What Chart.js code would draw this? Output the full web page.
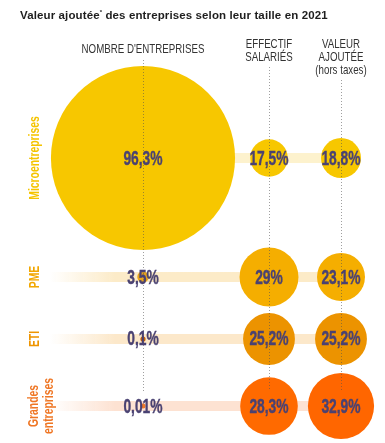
<!DOCTYPE html>
<html lang="fr">
<head>
<meta charset="utf-8">
<script src="https://cdn.jsdelivr.net/npm/chart.js@4.4.0/dist/chart.umd.min.js"></script>
<style>
  html, body { margin: 0; padding: 0; background: #fff; }
  #wrap { position: relative; width: 385px; height: 443px; overflow: hidden; font-family: "Liberation Sans", Arial, sans-serif; }
  #chart { position: absolute; left: 0; top: 0; }
  .title { position: absolute; left: 20px; top: 9px; font-size: 11.5px; letter-spacing: 0.12px; line-height: 13px; font-weight: bold; color: #1e1e1e; white-space: nowrap; }
  .title sup { font-size: 6px; vertical-align: 5px; line-height: 0; }
  .head { position: absolute; font-size: 13.5px; line-height: 13px; color: #333; text-align: center; white-space: nowrap; transform: translateX(-50%) scaleX(0.72); }
  .row { position: absolute; font-size: 14px; line-height: 15px; font-weight: bold; text-align: center; white-space: nowrap; transform: translate(-50%, -50%) rotate(-90deg) scaleX(0.74); }
</style>
</head>
<body>
<div id="wrap">
  <canvas id="chart" width="385" height="443"></canvas>
  <div class="title">Valeur ajoutée<sup>*</sup> des entreprises selon leur taille en 2021</div>
</div>
<script>
// Data (percent shares, 2021)
const rowNames = [['Microentreprises'], ['PME'], ['ETI'], ['Grandes', 'entreprises']];
const columnNames = [["NOMBRE D'ENTREPRISES"], ['EFFECTIF', 'SALARIÉS'], ['VALEUR', 'AJOUTÉE', '(hors taxes)']];
const nombreEntreprises = [96.3, 3.5, 0.1, 0.01];
const effectifSalaries = [17.5, 29, 25.2, 28.3];
const valeurAjoutee = [18.8, 23.1, 25.2, 32.9];
const series = [nombreEntreprises, effectifSalaries, valeurAjoutee];

// Layout (percent of the drawing area) and styles
const COL_X = [37.14, 69.87, 88.57];
const ROW_Y = [35.67, 62.53, 76.52, 91.65];
const HEAD_TOP = [42, 37, 37];
const LINE_TOP = [60, 67, 80];
const rowColors = ['#F5C400', '#F2A700', '#EE9400', '#EF7624'];
const circleColors = [
    ['#F7C700', '#F7C700', '#F7C700'],
    ['#E9A41C', '#F5AE00', '#F5AE00'],
    ['#C25E08', '#EC9300', '#EC9300'],
    ['#F07A2A', '#FF6A00', '#FF6600']
];
const bandColors = ['253,242,205', '252,235,200', '252,232,202', '253,226,210'];
const LABEL_COLOR = '#4A4272';

const radiusFor = v => 0.93 * v + 2.5;
const fmt = v => String(v).replace('.', ',') + '%';

// Faded horizontal band behind each row
const bandsPlugin = {
    id: 'bands',
    beforeDatasetsDraw(chart) {
        const { ctx, scales: { x, y } } = chart;
        const x0 = 50, x1 = x.getPixelForValue(COL_X[2]);
        ROW_Y.forEach((ry, r) => {
            const py = y.getPixelForValue(ry);
            const g = ctx.createLinearGradient(x0, 0, x0 + 65, 0);
            g.addColorStop(0, `rgba(${bandColors[r]},0)`);
            g.addColorStop(1, `rgba(${bandColors[r]},1)`);
            ctx.fillStyle = g;
            ctx.fillRect(x0, py - 5, x1 - x0, 10);
        });
    }
};

// Dotted column guides + value labels
const overlayPlugin = {
    id: 'overlay',
    afterDatasetsDraw(chart) {
        const { ctx, scales: { x, y } } = chart;
        const bottom = y.getPixelForValue(ROW_Y[3]) - 15;
        ctx.save();
        ctx.strokeStyle = 'rgba(80,80,80,0.55)';
        ctx.lineWidth = 1;
        ctx.setLineDash([1, 2]);
        COL_X.forEach((cx, c) => {
            const px = Math.round(x.getPixelForValue(cx)) + 0.5;
            ctx.beginPath();
            ctx.moveTo(px, LINE_TOP[c]);
            ctx.lineTo(px, bottom);
            ctx.stroke();
        });
        ctx.restore();

        chart.data.datasets.forEach((ds, r) => {
            chart.getDatasetMeta(r).data.forEach((pt, c) => {
                ctx.save();
                ctx.translate(pt.x, pt.y + 1);
                ctx.scale(0.69, 1);
                ctx.font = 'bold 20px "Liberation Sans", Arial, sans-serif';
                ctx.textAlign = 'center';
                ctx.textBaseline = 'middle';
                ctx.fillStyle = LABEL_COLOR;
                ctx.strokeStyle = LABEL_COLOR;
                ctx.lineWidth = 0.4;
                ctx.fillText(fmt(ds.data[c].v), 0, 0);
                ctx.strokeText(fmt(ds.data[c].v), 0, 0);
                ctx.restore();
            });
        });
    }
};

const chart = new Chart(document.getElementById('chart'), {
    type: 'bubble',
    data: {
        datasets: rowNames.map((name, r) => ({
            label: name.join(' '),
            data: series.map((vals, c) => ({ x: COL_X[c], y: ROW_Y[r], r: radiusFor(vals[r]), v: vals[r] })),
            backgroundColor: circleColors[r],
            borderWidth: 0,
            clip: false
        }))
    },
    options: {
        responsive: false,
        animation: false,
        events: [],
        layout: { padding: 0, autoPadding: false },
        scales: {
            x: { type: 'linear', display: false, min: 0, max: 100 },
            y: { type: 'linear', display: false, min: 0, max: 100, reverse: true }
        },
        plugins: { legend: { display: false }, tooltip: { enabled: false } }
    },
    plugins: [bandsPlugin, overlayPlugin]
});

// Column headers and row labels placed from the chart's scales
const wrap = document.getElementById('wrap');
columnNames.forEach((lines, c) => {
    const d = document.createElement('div');
    d.className = 'head';
    d.style.left = chart.scales.x.getPixelForValue(COL_X[c]) + 'px';
    d.style.top = HEAD_TOP[c] + 'px';
    d.innerHTML = lines.join('<br>');
    wrap.appendChild(d);
});
rowNames.forEach((lines, r) => {
    const d = document.createElement('div');
    d.className = 'row';
    d.style.left = (33.5 + (lines.length - 1) * 7.5) + 'px';
    d.style.top = chart.scales.y.getPixelForValue(ROW_Y[r]) + 'px';
    d.style.color = rowColors[r];
    d.innerHTML = lines.join('<br>');
    wrap.appendChild(d);
});
</script>
</body>
</html>
